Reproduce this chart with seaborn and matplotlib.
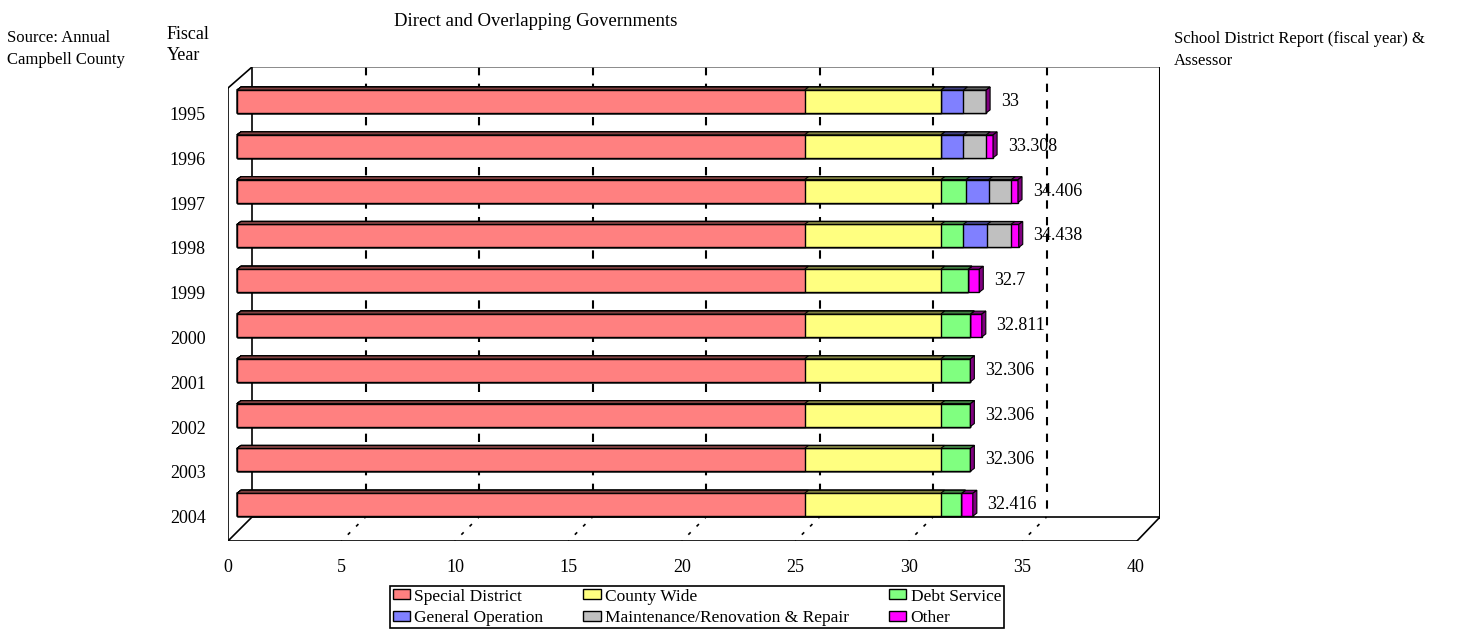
import seaborn as sns
import numpy as np
import pandas as pd
import matplotlib.pyplot as plt
from matplotlib.patches import Patch, Polygon
from matplotlib.transforms import ScaledTranslation

# data
years = ["1995", "1996", "1997", "1998", "1999", "2000", "2001", "2002", "2003", "2004"]
special_district = [25, 25, 25, 25, 25, 25, 25, 25, 25, 25]
county_wide = [6, 6, 6, 6, 6, 6, 6, 6, 6, 6]
debt_service = [0, 0, 1.106, 0.988, 1.2, 1.3, 1.306, 1.306, 1.306, 0.916]
general_operation = [1, 1, 1, 1.05, 0, 0, 0, 0, 0, 0]
maintenance = [1, 1, 1, 1.05, 0, 0, 0, 0, 0, 0]
other = [0, 0.308, 0.3, 0.35, 0.5, 0.511, 0, 0, 0, 0.5]
total_labels = ["33", "33.308", "34.406", "34.438", "32.7", "32.811", "32.306", "32.306", "32.306", "32.416"]

series = ["Special District", "County Wide", "Debt Service",
          "General Operation", "Maintenance/Renovation & Repair", "Other"]
colors = ["#FF8080", "#FFFF80", "#80FF80", "#8080FF", "#C0C0C0", "#FF00FF"]

df = pd.DataFrame({"year": years,
                   "Special District": special_district,
                   "County Wide": county_wide,
                   "Debt Service": debt_service,
                   "General Operation": general_operation,
                   "Maintenance/Renovation & Repair": maintenance,
                   "Other": other})
cum = df[series].cumsum(axis=1)
cum["year"] = years

plt.rcParams['font.family'] = ['Liberation Serif', 'DejaVu Serif']

W, H = 1466, 634
fig = plt.figure(figsize=(W / 100, H / 100), dpi=100)
ax = fig.add_axes([228 / W, 1 - 541 / H, (1160 - 228) / W, (541 - 67) / H])

# pixel -> data helpers for the fake 3d frame
def px_x(p):
    return (p - 237) / 22.7

def px_y(p):
    return (p - 101.5) / 44.8

FRONT = px_x(228)
BACK = px_x(252)
TOP = px_y(67)
FLOOR_FRONT = px_y(541)
FLOOR_BACK = px_y(517)

# stacked bars: draw cumulative totals, longest first
for name, col in reversed(list(zip(series, colors))):
    sns.barplot(data=cum, x=name, y="year", orient="h", order=years, color=col,
                saturation=1, width=0.51, edgecolor="black", linewidth=1,
                errorbar=None, ax=ax, zorder=2)

# 3d top and side faces
dx, dy = 4 / 22.7, 3 / 44.8
n = len(years)
for k, p in enumerate(list(ax.patches)):
    x0, y0, w, h = p.get_x(), p.get_y(), p.get_width(), p.get_height()
    fc = np.array(p.get_facecolor())
    dark = tuple(fc[:3] * 0.5) + (1,)
    top = Polygon([(x0, y0), (x0 + w, y0), (x0 + w + dx, y0 - dy), (x0 + dx, y0 - dy)],
                  closed=True, facecolor=dark, edgecolor="black", lw=0.8, zorder=2)
    ax.add_patch(top)
    if k < n:
        side = Polygon([(x0 + w, y0), (x0 + w + dx, y0 - dy), (x0 + w + dx, y0 + h - dy), (x0 + w, y0 + h)],
                       closed=True, facecolor=dark, edgecolor="black", lw=0.8, zorder=3)
        ax.add_patch(side)

# value labels
for i, lab in enumerate(total_labels):
    ax.text(cum["Other"][i] + 0.65, i, lab, va="center", ha="left", fontsize=13, zorder=4)

# back wall grid and floor marks
ticks = [0, 5, 10, 15, 20, 25, 30, 35, 40]
for v in ticks[1:-1]:
    ax.plot([v + BACK, v + BACK], [TOP, FLOOR_BACK], ls=(0, (4, 4)), color="black", lw=1.5, zorder=0.5)
    ax.plot([v + BACK, v + FRONT], [FLOOR_BACK, FLOOR_FRONT], ls=(1, (2, 5)), color="black", lw=1.2, zorder=0.5)

right_back = px_x(1160)
right_front = px_x(1137)
frame = dict(color="black", lw=1.2, zorder=1, solid_capstyle="projecting")
ax.plot([BACK, BACK], [TOP, FLOOR_BACK], **frame)
ax.plot([BACK, right_back], [TOP, TOP], color="#777777", lw=1.2, zorder=1)
ax.plot([right_back, right_back], [TOP, FLOOR_BACK], color="black", lw=2.2, zorder=1)
ax.plot([BACK, right_back], [FLOOR_BACK, FLOOR_BACK], **frame)
ax.plot([FRONT, right_front], [FLOOR_FRONT, FLOOR_FRONT], **frame)
ax.plot([FRONT, BACK], [FLOOR_FRONT, FLOOR_BACK], **frame)
ax.plot([right_front, right_back], [FLOOR_FRONT, FLOOR_BACK], **frame)
ax.plot([FRONT, FRONT], [px_y(88), FLOOR_FRONT], **frame)
ax.plot([FRONT, BACK], [px_y(88), TOP], **frame)

ax.set_xlim(FRONT, right_back)
ax.set_ylim(FLOOR_FRONT, TOP)
for s in ax.spines.values():
    s.set_visible(False)
ax.set_xlabel("")
ax.set_ylabel("")
ax.set_xticks([v + FRONT for v in ticks])
ax.set_xticklabels([str(v) for v in ticks], fontsize=13)
ax.tick_params(axis="x", length=0, pad=13)
ax.tick_params(axis="y", length=0, pad=16, labelsize=13)
shift = ScaledTranslation(0, -0.12, fig.dpi_scale_trans)
for lab in ax.get_yticklabels():
    lab.set_transform(lab.get_transform() + shift)

# texts around the chart
fig.text(536 / W, 1 - 22 / H, "Direct and Overlapping Governments", ha="center", va="center", fontsize=13.5)
fig.text(167 / W, 1 - 45 / H, "Fiscal\nYear", ha="left", va="center", fontsize=13, linespacing=1.3)
fig.text(7 / W, 1 - 49 / H, "Source: Annual\nCampbell County", ha="left", va="center", fontsize=12, linespacing=1.45)
fig.text(1174 / W, 1 - 50 / H, "School District Report (fiscal year) &\nAssessor", ha="left", va="center",
         fontsize=12, linespacing=1.45)

# legend
handles = [Patch(facecolor=c, edgecolor="black", lw=1) for c in colors]
order = [0, 3, 1, 4, 2, 5]
leg = fig.legend([handles[i] for i in order], [series[i] for i in order], ncol=3, loc="upper left",
                 bbox_to_anchor=(390 / W, 1 - 586 / H), frameon=True, fancybox=False, framealpha=1,
                 edgecolor="black", fontsize=12.5, handlelength=1.0, handleheight=0.5, handletextpad=0.25,
                 columnspacing=2.3, borderpad=0.15, labelspacing=0.3, borderaxespad=0)
leg.get_frame().set_linewidth(1.2)

plt.savefig("out.png", dpi=100)
